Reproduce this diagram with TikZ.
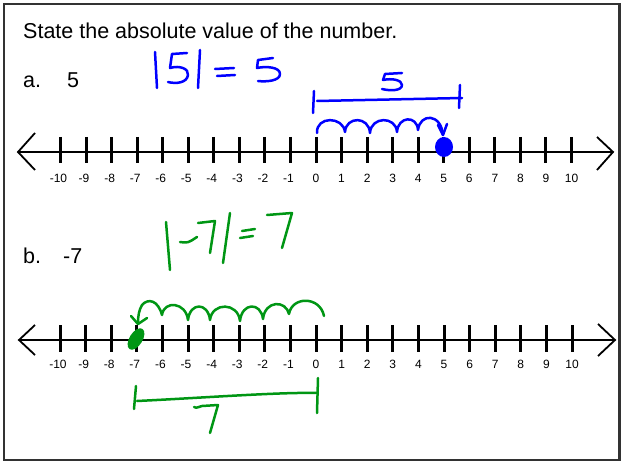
\documentclass[tikz,border=0pt]{standalone}
\usepackage{fontspec}
\setmainfont{Liberation Sans}
\definecolor{penblue}{RGB}{0,0,255}
\definecolor{pengreen}{RGB}{0,150,20}
\definecolor{framegray}{RGB}{50,50,50}
\begin{document}
\begin{tikzpicture}[x=1pt,y=-1pt,
  tickmark/.style={line width=3pt},
  axisline/.style={line width=2pt},
  chevron/.style={line width=1.8pt},
  numlab/.style={font=\fontsize{12}{14}\selectfont, inner sep=0pt},
  bigtext/.style={font=\fontsize{21.5}{26}\selectfont, inner sep=0pt, anchor=base west},
  pen/.style={line width=2.5pt, line cap=round, line join=round}]
\useasboundingbox (0,0) rectangle (623,470);
\draw[line width=2.2pt, framegray] (4,4) rectangle (619.5,460);

% texts
\node[bigtext] (title) at (23,39) {State the absolute value of the number.};
\node[bigtext] (alab) at (23,88) {a.};
\node[bigtext] (aval) at (67,88) {5};
\node[bigtext] (blab) at (23,263) {b.};
\node[bigtext] (bval) at (63,263) {-7};

% number line 1
\coordinate (L1a) at (18,152);
\coordinate (L1b) at (613,152);
\draw[axisline] (L1a) -- (L1b);
\draw[chevron] (35,133) -- (L1a) -- (35,170);
\draw[chevron] (597,137) -- (L1b) -- (597,170);
\foreach \k in {-10,...,10} {
  \pgfmathsetmacro\xx{316+25.55*\k}
  \pgfmathsetmacro\lx{\xx-2*(\k<0)}
  \draw[tickmark] (\xx,137) -- (\xx,163);
  \node[numlab] at (\lx,178) {\k};
}

% number line 2
\coordinate (L2a) at (19,340);
\coordinate (L2b) at (615,340);
\draw[axisline] (L2a) -- (L2b);
\draw[chevron] (35,325) -- (L2a) -- (35,355);
\draw[chevron] (598,324) -- (L2b) -- (598,356);
\foreach \k in {-10,...,10} {
  \pgfmathsetmacro\xx{316+25.6*\k}
  \pgfmathsetmacro\lx{\xx-2*(\k<0)}
  \draw[tickmark] (\xx,325) -- (\xx,352);
  \node[numlab] at (\lx,364) {\k};
}

% blue handwriting |5| = 5
\begin{scope}[pen, penblue]
\draw (155,52) -- (157,88);
\draw (187,53) -- (172,54) -- (170,68) .. controls (180,65) and (189,69) .. (188,75) .. controls (187,83) and (176,84) .. (168,82);
\draw (200,50) -- (198,88);
\draw (215,69) -- (234,68);
\draw (217,76) -- (235,75);
\draw (273,58) -- (258,60) -- (257,68) .. controls (266,66) and (280,67) .. (280,74) .. controls (280,81) and (266,82) .. (258,81);
% bracket with 5
\draw (314,91) -- (313,113);
\draw (317,101) -- (462,98);
\draw (460,85) -- (459,108);
\draw (402,73) -- (385,74) -- (383,80) .. controls (392,78) and (402,80) .. (402,85) .. controls (402,91) and (390,91) .. (382,89);
% hops
\draw (317,133) .. controls (316,116) and (343,116) .. (345,132)
  .. controls (346,116) and (369,116) .. (370,133)
  .. controls (371,116) and (396,116) .. (397,132)
  .. controls (398,116) and (417,115) .. (418,130)
  .. controls (420,113) and (441,113) .. (443,135);
\draw (438,125) -- (443,135) -- (447,124);
\end{scope}
\fill[penblue] (444,147) ellipse (9 and 10);

% green handwriting |-7|=7
\begin{scope}[pen, pengreen]
\draw (166,222) -- (170,270);
\draw (180,242) .. controls (188,243) .. (197,237);
\draw (198,223) -- (215,221) -- (210,253);
\draw (230,213) -- (223,263);
\draw (242,231) -- (255,229);
\draw (240,238) -- (253,236);
\draw (267,215) -- (292,213) -- (282,248);
% hops
\draw (324,316) .. controls (320,296) and (292,296) .. (289,314)
  .. controls (286,300) and (265,300) .. (263,319)
  .. controls (261,302) and (242,302) .. (240,321)
  .. controls (238,302) and (212,302) .. (210,320)
  .. controls (208,302) and (190,302) .. (188,320)
  .. controls (186,302) and (164,300) .. (162,315)
  .. controls (158,300) and (148,298) .. (142,305)
  .. controls (139,310) and (138,316) .. (138,323);
\draw (131,316) -- (138,324) -- (147,318);
% bracket with 7
\draw (136,386) -- (134,409);
\draw (137,401) .. controls (200,398) and (280,392) .. (317,393);
\draw (318,378) -- (317,413);
\draw (194,407) .. controls (197,409) and (199,406) .. (202,406) -- (218,405) -- (210,433);
\end{scope}
\fill[pengreen, rotate around={58:(136,339)}] (136,339) ellipse (12 and 6.5);
\end{tikzpicture}
\end{document}
